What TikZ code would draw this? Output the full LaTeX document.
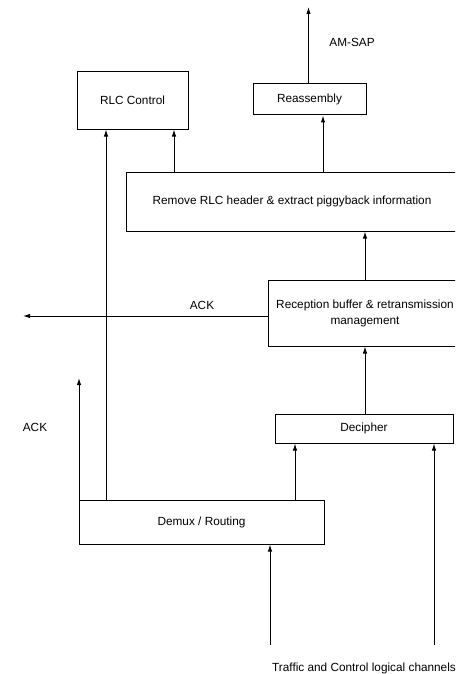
\documentclass[tikz,border=0pt]{standalone}
\usepackage{fontspec}
\setmainfont{Liberation Sans}
\usetikzlibrary{arrows.meta}
\begin{document}
\begin{tikzpicture}[x=1pt,y=-1pt,
    blk/.style={draw,line width=1pt,inner sep=0pt,align=center,font=\fontsize{11.8}{16}\selectfont},
    arr/.style={-{Latex[length=7pt,width=4.5pt]},line width=1pt},
    lbl/.style={inner sep=0pt,font=\fontsize{11.8}{14}\selectfont}]
    \useasboundingbox (0,0) rectangle (455,674);
    \clip (0,0) rectangle (455,674);

    % blocks
    \node[blk,minimum width=111pt,minimum height=57pt] (rlcctrl) at (132.5,100.5) {RLC Control};
    \node[blk,minimum width=113pt,minimum height=31pt] (reasm) at (309.5,99.5) {Reassembly};
    \node[blk,minimum width=332pt,minimum height=59pt] (remove) at (292,201.5) {Remove RLC header \& extract piggyback information};
    \node[blk,minimum width=194pt,minimum height=66pt] (recept) at (365,313) {Reception buffer \& retransmission\\management};
    \node[blk,minimum width=178pt,minimum height=29pt] (decipher) at (364,428.5) {Decipher};
    \node[blk,minimum width=245pt,minimum height=44pt] (demux) at (201.5,522) {Demux / Routing};

    % free ends and offsets
    \coordinate (sap) at (308.5,7);
    \coordinate (ackend) at (23,316);
    \coordinate (ackup) at (79,378);
    \coordinate (xr) at (323,0);
    \coordinate (xc) at (174,0);
    \coordinate (xd) at (106,0);
    \coordinate (xm) at (295,0);
    \coordinate (xq) at (365,0);
    \coordinate (inA) at (270,645);
    \coordinate (inB) at (434,645);

    % connectors
    \draw[arr] (reasm.north -| sap) -- (sap);
    \draw[arr] (remove.north -| xr) -- (reasm.south -| xr);
    \draw[arr] (remove.north -| xc) -- (rlcctrl.south -| xc);
    \draw[arr] (demux.north -| xd) -- (rlcctrl.south -| xd);
    \draw[arr] (recept.north -| xq) -- (remove.south -| xq);
    \draw[arr] (recept.west |- ackend) -- (ackend);
    \draw[arr] (demux.north -| ackup) -- (ackup);
    \draw[arr] (demux.north -| xm) -- (decipher.south -| xm);
    \draw[arr] (decipher.north -| xq) -- (recept.south -| xq);
    \draw[arr] (inA) -- (demux.south -| inA);
    \draw[arr] (inB) -- (decipher.south -| inB);

    % labels
    \node[lbl] (sapl) at (352,42) {AM-SAP};
    \node[lbl] (ackt) at (202,305) {ACK};
    \node[lbl] (ackb) at (35,427) {ACK};
    \node[lbl,anchor=west] (chan) at (272,668) {Traffic and Control logical channels};
\end{tikzpicture}
\end{document}
